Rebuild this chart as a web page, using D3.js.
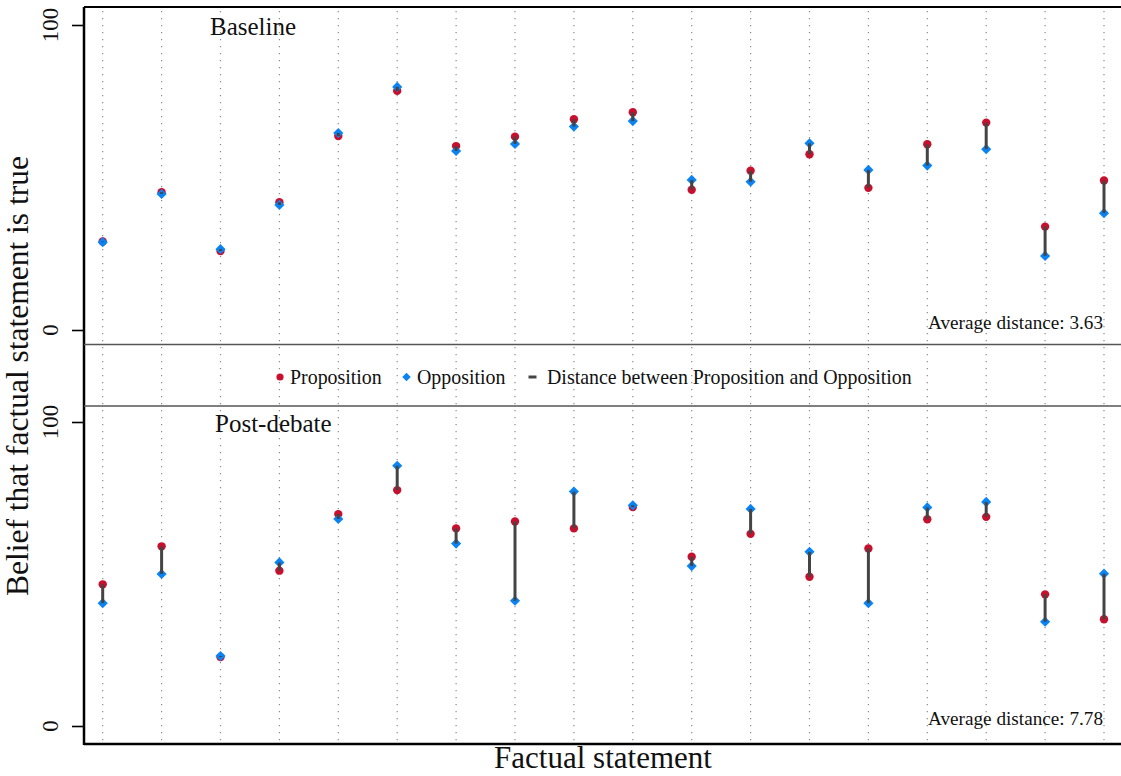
<!DOCTYPE html>
<html>
<head>
<meta charset="UTF-8">
<title>Belief in factual statements</title>
<script src="https://d3js.org/d3.v7.min.js"></script>
<style>
    body { margin: 0; background: #fff; }
    text { font-family: "Liberation Serif", "Times New Roman", serif; fill: #111; }
</style>
</head>
<body>
<script>
    // statements 1..18, beliefs on a 0-100 scale
    const statements = d3.range(1, 19);
    const baseProp = [29, 45.2, 25.9, 41.9, 63.6, 78.4, 60.3, 63.4, 69.1, 71.4, 46.0, 52.2, 57.6, 46.6, 60.9, 68.0, 33.9, 49.0];
    const baseOpp  = [28.8, 44.6, 26.5, 41.0, 64.6, 79.7, 58.7, 61.0, 66.7, 68.5, 49.2, 48.6, 61.2, 52.5, 53.9, 59.3, 24.3, 38.3];
    const postProp = [46.6, 59.1, 22.7, 51.1, 69.7, 77.6, 65.0, 67.3, 65.0, 72.0, 55.7, 63.2, 49.1, 58.4, 68.0, 68.8, 43.3, 35.1];
    const postOpp  = [40.4, 50.0, 23.0, 53.8, 68.1, 85.6, 60.0, 41.2, 77.1, 72.6, 52.6, 71.4, 57.3, 40.4, 71.9, 73.7, 34.3, 50.1];
    const yTicks = [0, 100];
    const panelNames = ["Baseline", "Post-debate"];
    const avgLabels = ["Average distance: 3.63", "Average distance: 7.78"];
    const legendLabels = ["Proposition", "Opposition", "Distance between Proposition and Opposition"];

    const width = 1121, height = 776;
    const red = "#c8102e", blue = "#0a84f5", lineCol = "#444";

    const svg = d3.select("body").append("svg").attr("width", width).attr("height", height);

    const x = d3.scaleLinear().domain([1, 18]).range([102.7, 1104]);
    const plotL = 84, plotR = 1121, plotT = 7, plotB = 744;

    const panels = [
        { name: panelNames[0], avg: avgLabels[0], prop: baseProp, opp: baseOpp,
          y: d3.scaleLinear().domain([0, 100]).range([330, 25]) },
        { name: panelNames[1], avg: avgLabels[1], prop: postProp, opp: postOpp,
          y: d3.scaleLinear().domain([0, 100]).range([726, 422]) }
    ];

    // dotted vertical grid through the whole plot
    svg.append("g").selectAll("line").data(statements).join("line")
        .attr("x1", d => x(d)).attr("x2", d => x(d))
        .attr("y1", plotT + 4).attr("y2", plotB - 3)
        .attr("stroke", "#8a8a8a").attr("stroke-width", 1.2)
        .attr("stroke-dasharray", "1.2,5.8");

    // frame
    svg.append("line").attr("x1", plotL).attr("x2", plotR).attr("y1", plotT).attr("y2", plotT)
        .attr("stroke", "#000").attr("stroke-width", 2);
    svg.append("line").attr("x1", plotL).attr("x2", plotR).attr("y1", plotB).attr("y2", plotB)
        .attr("stroke", "#000").attr("stroke-width", 2.5);
    svg.append("line").attr("x1", plotL).attr("x2", plotL).attr("y1", plotT).attr("y2", plotB + 1)
        .attr("stroke", "#000").attr("stroke-width", 2.5);
    [344.5, 406].forEach(yy => {
        svg.append("line").attr("x1", plotL).attr("x2", plotR).attr("y1", yy).attr("y2", yy)
            .attr("stroke", "#555").attr("stroke-width", 1.6);
    });

    const diamond = d3.symbol().type(d3.symbolDiamond2).size(66);

    panels.forEach(p => {
        const ax = svg.append("g").attr("transform", `translate(${plotL},0)`)
            .call(d3.axisLeft(p.y).tickValues(yTicks).tickSize(12).tickFormat(""));
        ax.select(".domain").remove();
        ax.selectAll(".tick line").attr("stroke", "#000").attr("stroke-width", 1.6);
        // rotated tick labels
        svg.append("g").selectAll("text").data(yTicks).join("text")
            .attr("transform", d => `translate(58,${p.y(d)}) rotate(-90)`)
            .attr("text-anchor", "middle")
            .style("font-size", "23px")
            .text(d => d);

        const g = svg.append("g");
        const rows = statements.map((s, i) => ({ s, prop: p.prop[i], opp: p.opp[i] }));

        g.selectAll("circle").data(rows).join("circle")
            .attr("cx", d => x(d.s)).attr("cy", d => p.y(d.prop))
            .attr("r", 4.2).attr("fill", red);
        g.selectAll("path.opp").data(rows).join("path").attr("class", "opp")
            .attr("d", diamond)
            .attr("transform", d => `translate(${x(d.s)},${p.y(d.opp)})`)
            .attr("fill", blue);
        g.selectAll("line.dist").data(rows).join("line").attr("class", "dist")
            .attr("x1", d => x(d.s)).attr("x2", d => x(d.s))
            .attr("y1", d => p.y(d.prop)).attr("y2", d => p.y(d.opp))
            .attr("stroke", lineCol).attr("stroke-width", 3);

        svg.append("text")
            .attr("x", p === panels[0] ? 210 : 215)
            .attr("y", p.y(100) + 10)
            .style("font-size", "25px").text(p.name);
        svg.append("text")
            .attr("x", 1103).attr("y", p.y(0) - 1)
            .attr("text-anchor", "end")
            .style("font-size", "19.2px").text(p.avg);
    });

    // legend
    const ly = 377;
    const lg = svg.append("g");
    lg.append("circle").attr("cx", 280).attr("cy", ly).attr("r", 3.6).attr("fill", red);
    lg.append("path").attr("d", d3.symbol().type(d3.symbolDiamond2).size(46))
        .attr("transform", `translate(406.5,${ly})`).attr("fill", blue);
    lg.append("line").attr("x1", 528.5).attr("x2", 536.5).attr("y1", ly).attr("y2", ly)
        .attr("stroke", lineCol).attr("stroke-width", 3);
    [[290, legendLabels[0]], [417, legendLabels[1]], [547, legendLabels[2]]].forEach(([lx, t]) => {
        lg.append("text").attr("x", lx).attr("y", ly + 7)
            .style("font-size", "19.9px").text(t);
    });

    // axis titles
    svg.append("text")
        .attr("x", 603).attr("y", 768)
        .attr("text-anchor", "middle")
        .style("font-size", "31px").text("Factual statement");
    svg.append("text")
        .attr("transform", "translate(28,376) rotate(-90)")
        .attr("text-anchor", "middle")
        .style("font-size", "31.5px").text("Belief that factual statement is true");
</script>
</body>
</html>
